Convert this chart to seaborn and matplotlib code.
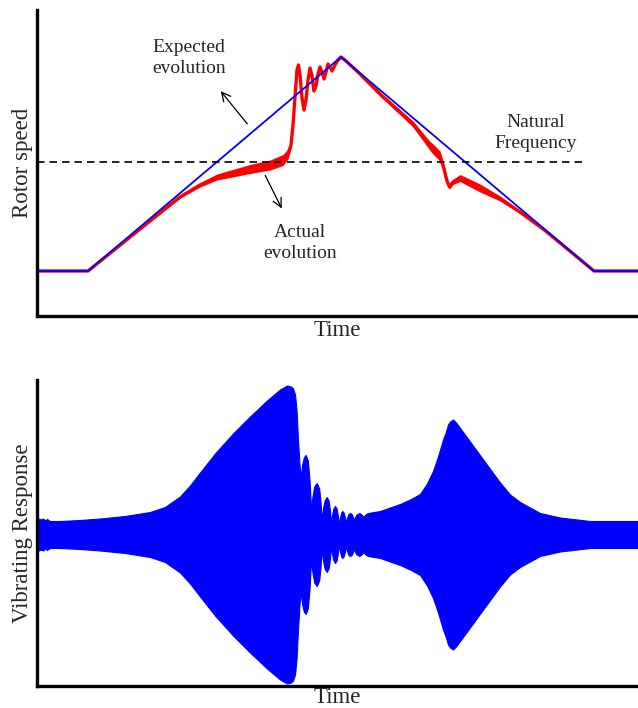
import numpy as np
import pandas as pd
import matplotlib
matplotlib.use("Agg")
import matplotlib.pyplot as plt
import seaborn as sns

sns.set_style("white")
plt.rcParams['font.family'] = ['Liberation Serif', 'DejaVu Serif']

# ---------------- data ----------------
# Top panel: expected rotor speed
exp_time = [0, 51, 304, 557, 601]
exp_speed = [45, 45, 259, 45, 45]

# Actual rotor speed: centre of the red trace and its half thickness
act_time = [0, 51, 113, 143, 163, 180, 213, 233, 246, 251, 254, 256, 258, 260,
            261.5, 263, 265, 267, 269, 271, 273, 275, 277, 279, 281, 283, 285,
            287, 289, 291, 293, 295, 298, 301, 304, 308, 323, 343, 376, 393,
            396, 403, 407, 410, 412.5, 416, 423, 443, 463, 483, 508, 557, 601]
act_speed = [45, 45, 95, 119, 131, 139, 147, 151, 156, 162, 171, 191, 219, 246,
             251, 241, 218, 206, 216, 236, 248, 240, 225, 230, 242, 249, 244,
             237, 244, 252, 249, 245, 251, 256, 259, 256, 242, 222, 192, 170,
             167, 160, 147, 135, 129, 134, 138, 128, 117.5, 104, 85.5, 45, 45]
act_half = [0.5, 0.5, 0.8, 1.2, 2, 3, 4.5, 5, 5.5, 5, 4, 3, 2, 1,
            1, 1, 1, 1.5, 1, 1, 1, 1, 1, 1, 1, 1, 1,
            1, 1, 1, 1, 1, 1, 1, 1.5, 1.5, 1.5, 2, 3, 4.5,
            5, 5, 5, 3.5, 2, 2.5, 3.5, 4, 2.5, 1.5, 0.8, 0.5, 0.5]

nat_time = [0, 545]
nat_speed = [154, 154]

# Bottom panel: vibrating response envelope (half amplitude)
vib_time = [0, 2, 4, 6, 8, 10, 13, 23, 43, 63, 88, 113, 128, 133, 143, 153,
            163, 178, 196, 213, 230, 243, 250, 254, 256, 258, 259.5, 261, 262.5,
            263.7, 265.2, 266.8, 268.7, 270.8, 272.5, 274,
            275.5, 277.2, 279.7, 282.2, 283.6, 284.7,
            286, 287.6, 289.7, 291.6, 293, 294,
            295, 296.4, 298, 299.6, 301, 302,
            303, 304.2, 305.3, 306.6, 308, 309,
            310, 311.5, 313, 314.6, 316, 317,
            319, 322.3, 325, 326.3, 329, 331.3,
            343, 363, 373, 383, 390, 396, 401, 406, 409, 411, 413, 416, 419,
            463, 473, 483, 503, 523, 553, 601]
vib_amp = [12.5, 16, 15, 16, 14, 15.5, 13.5, 13.5, 14.5, 16, 18.5, 22.5, 27.5,
           31, 38, 49, 62, 81, 101, 118, 134, 145, 149, 148, 146, 140, 125, 95,
           70, 57.5, 70, 77, 79.5, 74, 55, 26,
           38, 48, 51.5, 46, 32, 14.5,
           26, 34, 37.5, 34, 24, 11.5,
           19, 26, 28.5, 26, 18, 9.5,
           17, 22, 23.5, 22, 17, 11.5,
           16.5, 20.5, 21.5, 20.5, 17.5, 14.5,
           19.5, 21.5, 19.5, 17.5, 20.5, 21.5,
           23.5, 30.5, 35, 40.5, 51, 63.5, 78, 95, 103, 110, 113,
           115, 112, 52, 40, 32.5, 21.5, 17, 13.5, 13.5]

# ---------------- figure ----------------
fig = plt.figure(figsize=(6.38, 7.08), dpi=100)
ax1 = fig.add_axes([37 / 638, 1 - 316 / 708, 1 - 37 / 638, 306 / 708])
ax2 = fig.add_axes([37 / 638, 1 - 686 / 708, 1 - 37 / 638, 306 / 708])

RED = "#FF0000"
BLUE = "#0000FF"

act = pd.DataFrame({"t": act_time, "s": act_speed, "h": act_half})
ax1.fill_between(act["t"], act["s"] - act["h"], act["s"] + act["h"],
                 color=RED, lw=0, zorder=2)
sns.lineplot(data=act, x="t", y="s", ax=ax1, color=RED, lw=2.4, zorder=2,
             sort=False, estimator=None)
sns.lineplot(x=exp_time, y=exp_speed, ax=ax1, color=BLUE, lw=1.3, zorder=3)
sns.lineplot(x=nat_time, y=nat_speed, ax=ax1, color="black", lw=1.2, zorder=3,
             linestyle=(0, (4.5, 3)))
ax1.set_xlim(0, 601)
ax1.set_ylim(0, 306)

tkw = dict(ha="center", va="center", fontsize=14, linespacing=1.3)
ax1.text(152, 258, "Expected\nevolution", **tkw)
ax1.text(263, 73, "Actual\nevolution", **tkw)
ax1.text(499, 183, "Natural\nFrequency", **tkw)
akw = dict(arrowstyle="->", color="black", lw=0.9, mutation_scale=16)
ax1.annotate("", xy=(182, 227), xytext=(212, 190), arrowprops=akw)
ax1.annotate("", xy=(246, 105), xytext=(227, 143), arrowprops=akw)

vib = pd.DataFrame({"t": vib_time, "a": vib_amp})
ax2.fill_between(vib["t"], -vib["a"], vib["a"], color=BLUE, lw=0.8, edgecolor=BLUE)
ax2.set_xlim(0, 601)
ax2.set_ylim(-151.5, 154.5)

for ax, yl, lp in ((ax1, "Rotor speed", 3), (ax2, "Vibrating Response", 0.5)):
    ax.set_xticks([])
    ax.set_yticks([])
    sns.despine(ax=ax)
    for s in ("left", "bottom"):
        ax.spines[s].set_linewidth(2.4)
        ax.spines[s].set_color("black")
    ax.set_xlabel("Time", fontsize=16.5, labelpad=lp)
    ax.set_ylabel(yl, fontsize=16.5, labelpad=3)

fig.savefig("out.png", dpi=100)
